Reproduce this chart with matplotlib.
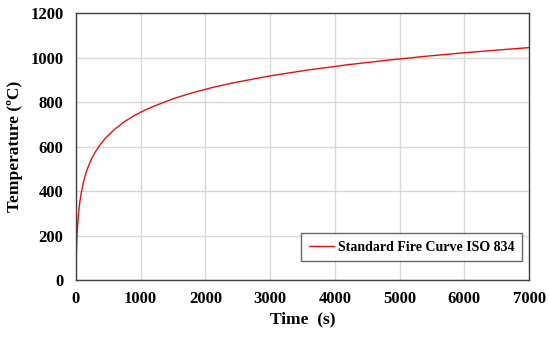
import matplotlib
matplotlib.use('Agg')
import matplotlib.pyplot as plt

# Values (time in s, temperature in degC)
time_s = [0, 2, 5, 10, 15, 20, 30, 45, 60, 75, 90, 120, 150, 180, 240, 300, 375, 450,
          600, 750, 900, 1050, 1200, 1500, 1800, 2100, 2400, 3000, 3600, 4200, 4800,
          5400, 6000, 6600, 7000]
temp_c = [20, 52, 97, 147, 185, 215, 261, 312, 349, 379, 404, 445, 476, 502, 544, 576,
          608, 636, 678, 712, 739, 762, 781, 815, 842, 865, 885, 918, 945, 968, 988,
          1006, 1022, 1036, 1045]

x_ticks = [0, 1000, 2000, 3000, 4000, 5000, 6000, 7000]
y_ticks = [0, 200, 400, 600, 800, 1000, 1200]

plt.rcParams['font.family'] = ['Liberation Serif', 'DejaVu Serif']
plt.rcParams['font.weight'] = 'bold'

fig = plt.figure(figsize=(5.5, 3.37), dpi=100)
ax = fig.add_axes([0.138, 0.169, 0.824, 0.792])

ax.plot(time_s, temp_c, color='#e01010', lw=1.0, label='Standard Fire Curve ISO 834')

ax.set_xlim(0, 7000)
ax.set_ylim(0, 1200)
ax.set_xticks(x_ticks)
ax.set_yticks(y_ticks)
ax.tick_params(length=0, labelsize=12)
ax.tick_params(axis='y', pad=9)
ax.tick_params(axis='x', pad=8)
for lab in ax.get_xticklabels() + ax.get_yticklabels():
    lab.set_fontweight('bold')
ax.grid(True, color='#d9d9d9', lw=1.0)
ax.set_axisbelow(True)
for s in ax.spines.values():
    s.set_color('#404040')
    s.set_linewidth(1.0)

ax.set_xlabel('Time  (s)', fontsize=12.5, fontweight='bold', labelpad=3)
ax.set_ylabel('Temperature (ºC)', fontsize=12.5, fontweight='bold', labelpad=5)

leg = ax.legend(loc='lower right', bbox_to_anchor=(0.985, 0.07),
                frameon=True, fancybox=False, handlelength=1.8, handletextpad=0.3,
                borderpad=0.55, borderaxespad=0,
                prop={'weight': 'bold', 'size': 10})
leg.get_frame().set_edgecolor('#404040')
leg.get_frame().set_linewidth(1.0)

fig.savefig('out.png', dpi=100)
